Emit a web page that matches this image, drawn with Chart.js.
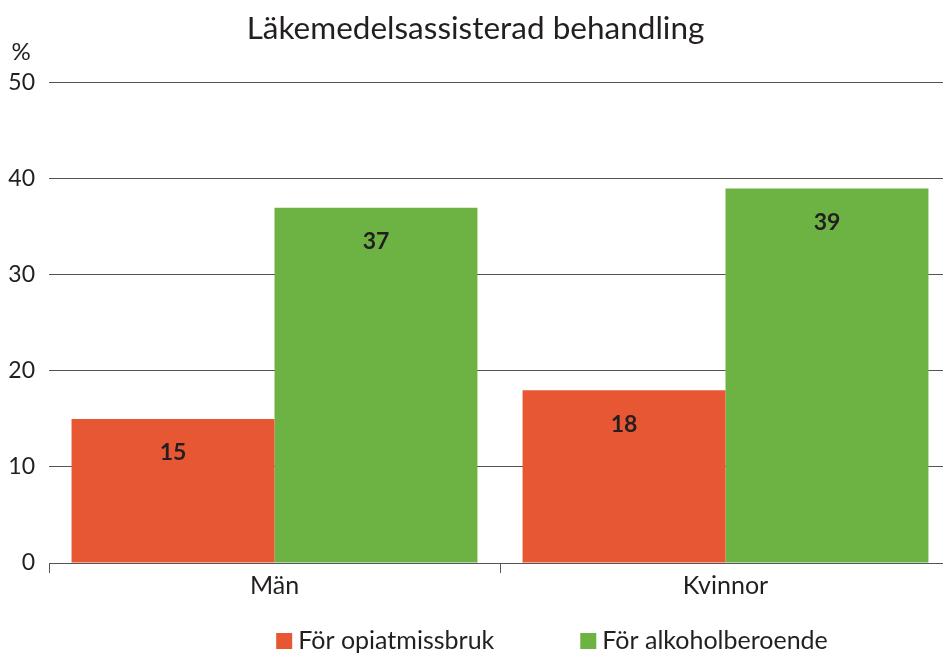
<!DOCTYPE html>
<html>
<head>
<meta charset="utf-8">
<script src="https://cdn.jsdelivr.net/npm/chart.js@4/dist/chart.umd.min.js"></script>
<style>
  html, body { margin: 0; padding: 0; background: #fff; overflow: hidden; }
  #wrap { width: 955px; height: 655px; }
</style>
</head>
<body>
<div id="wrap"><canvas id="chart"></canvas></div>
<script>
const categories = ['Män', 'Kvinnor'];
const opiat = [15, 18];
const alkohol = [37, 39];
const seriesNames = ['För opiatmissbruk', 'För alkoholberoende'];
const seriesColors = ['#e85733', '#6db344'];
const yTicks = [0, 10, 20, 30, 40, 50];

const FONT = 'Lato, "Open Sans", sans-serif';
const INK = '#231f20';

// bold values inside the bars, a bit below the top
const valueLabels = {
  id: 'valueLabels',
  afterDatasetsDraw(chart) {
    const ctx = chart.ctx;
    ctx.save();
    ctx.font = 'bold 23px ' + FONT;
    ctx.fillStyle = INK;
    ctx.textAlign = 'center';
    ctx.textBaseline = 'middle';
    chart.data.datasets.forEach((ds, i) => {
      chart.getDatasetMeta(i).data.forEach((bar, j) => {
        ctx.fillText(ds.data[j], bar.x, bar.y + 34);
      });
    });
    ctx.restore();
  }
};

// "%" above the y axis labels
const percentSign = {
  id: 'percentSign',
  afterDraw(chart) {
    const ctx = chart.ctx;
    ctx.save();
    ctx.font = '24px ' + FONT;
    ctx.fillStyle = INK;
    ctx.textAlign = 'center';
    ctx.textBaseline = 'middle';
    ctx.fillText('%', 21, chart.chartArea.top - 31);
    ctx.restore();
  }
};

// legend at the bottom, wide gap between the two items
const bottomLegend = {
  id: 'bottomLegend',
  afterDraw(chart) {
    const ctx = chart.ctx;
    const box = 16, boxGap = 6, itemGap = 86, y = 641;
    ctx.save();
    ctx.font = '25px ' + FONT;
    ctx.textBaseline = 'middle';
    const widths = seriesNames.map(n => box + boxGap + ctx.measureText(n).width);
    const total = widths.reduce((a, b) => a + b, 0) + itemGap * (widths.length - 1);
    let x = 552 - total / 2;
    seriesNames.forEach((n, i) => {
      ctx.fillStyle = seriesColors[i];
      ctx.fillRect(x, y - box / 2, box, box);
      ctx.fillStyle = INK;
      ctx.fillText(n, x + box + boxGap, y);
      x += widths[i] + itemGap;
    });
    ctx.restore();
  }
};

new Chart(document.getElementById('chart'), {
  type: 'bar',
  data: {
    labels: categories,
    datasets: [
      { label: seriesNames[0], data: opiat, backgroundColor: seriesColors[0] },
      { label: seriesNames[1], data: alkohol, backgroundColor: seriesColors[1] }
    ]
  },
  options: {
    responsive: true,
    maintainAspectRatio: false,
    animation: false,
    layout: { padding: { top: 6, right: 4, left: 0, bottom: 56 } },
    datasets: { bar: { categoryPercentage: 0.9, barPercentage: 1.0 } },
    plugins: {
      title: {
        display: true,
        text: 'Läkemedelsassisterad behandling',
        color: INK,
        font: { family: FONT, size: 31.5, weight: 'normal' },
        padding: { top: 4, bottom: 35 }
      },
      legend: { display: false },
      tooltip: { enabled: false }
    },
    scales: {
      x: {
        grid: {
          offset: true,
          drawOnChartArea: false,
          tickLength: 10,
          color: '#555'
        },
        border: { color: '#555', width: 1 },
        ticks: { color: INK, font: { family: FONT, size: 25 }, padding: -2 }
      },
      y: {
        min: 0,
        max: 50,
        afterBuildTicks(scale) { scale.ticks = yTicks.map(v => ({ value: v })); },
        afterFit(scale) { scale.width = 49; },
        grid: { color: '#555', drawTicks: false, lineWidth: 1 },
        border: { display: false },
        ticks: { color: INK, font: { family: FONT, size: 23 }, padding: 14 }
      }
    }
  },
  plugins: [valueLabels, percentSign, bottomLegend]
});
</script>
</body>
</html>
